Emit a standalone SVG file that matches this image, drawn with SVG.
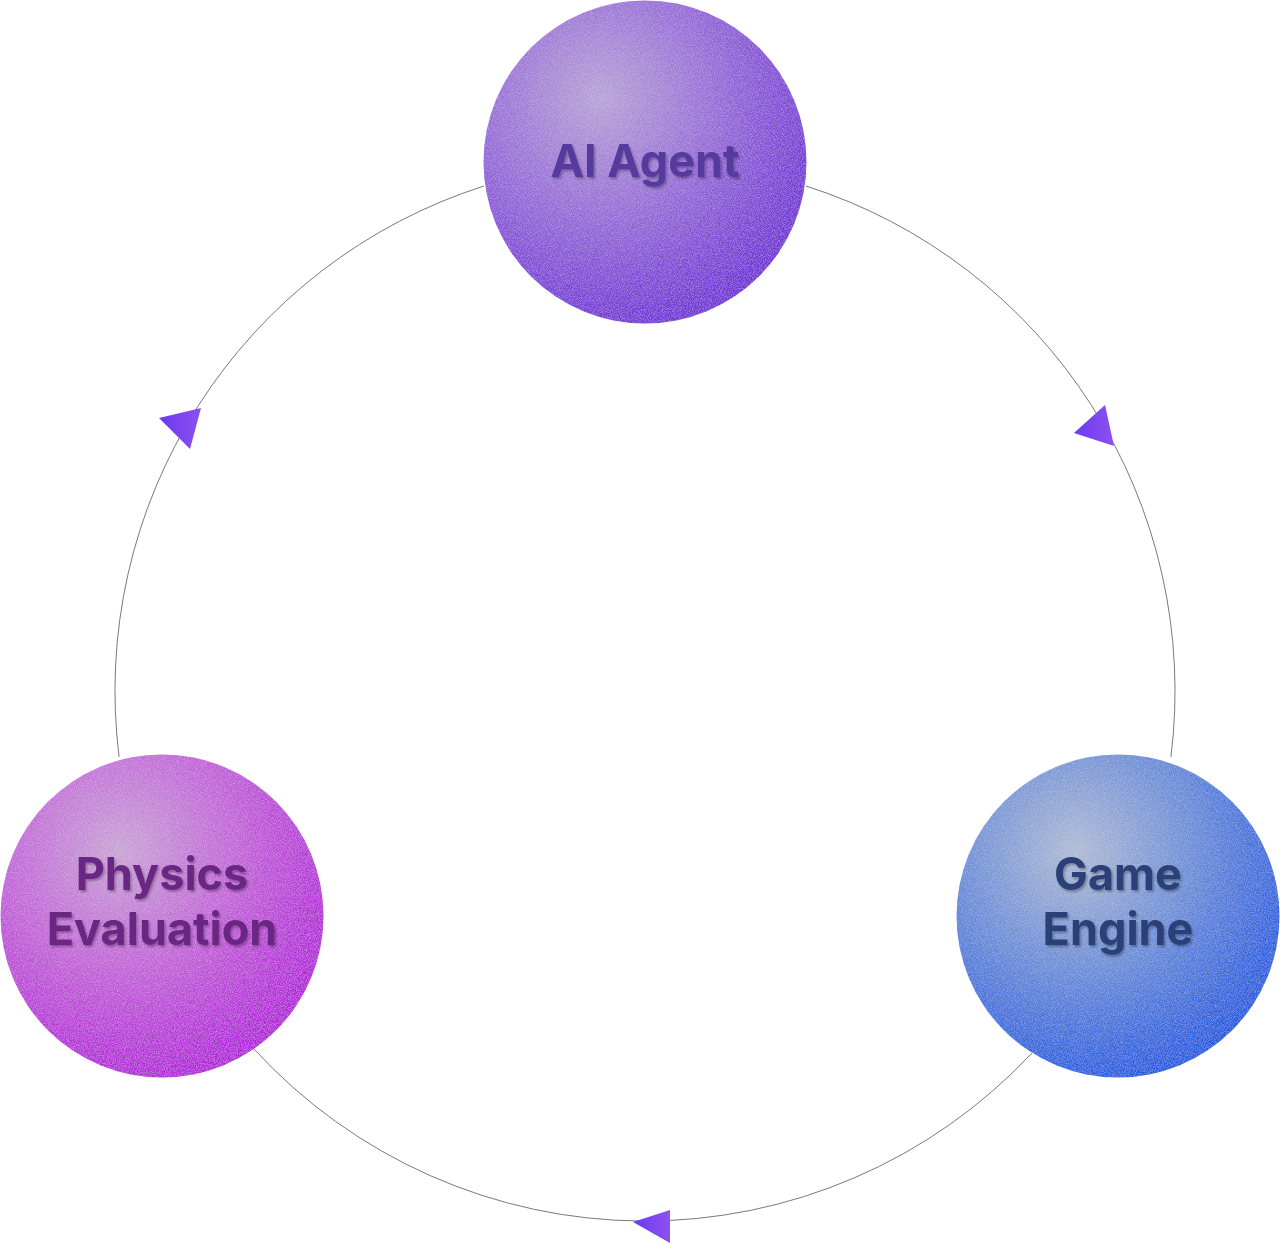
<svg xmlns="http://www.w3.org/2000/svg" width="1280" height="1244" viewBox="0 0 1280 1244">
  <style>
    .conn { fill: none; stroke: #7a7a7a; stroke-width: 1; }
    .arrow { fill: url(#arrowGrad); }
    .label { font-family: Inter, "Liberation Sans", sans-serif; font-weight: 700; font-size: 45px; text-anchor: middle; filter: url(#emboss); }
  </style>
  <defs>
    <radialGradient id="gAI" cx="0.36" cy="0.3" r="0.8" fx="0.36" fy="0.3">
      <stop offset="0" stop-color="#b7a2d6"/>
      <stop offset="0.45" stop-color="#976bd8"/>
      <stop offset="1" stop-color="#6a24d4"/>
    </radialGradient>
    <radialGradient id="gPhys" cx="0.37" cy="0.3" r="0.8" fx="0.37" fy="0.3">
      <stop offset="0" stop-color="#c8a4d6"/>
      <stop offset="0.45" stop-color="#c262d8"/>
      <stop offset="1" stop-color="#ae12d8"/>
    </radialGradient>
    <radialGradient id="gGame" cx="0.37" cy="0.3" r="0.8" fx="0.37" fy="0.3">
      <stop offset="0" stop-color="#afbad4"/>
      <stop offset="0.45" stop-color="#6b8dd8"/>
      <stop offset="1" stop-color="#1050e2"/>
    </radialGradient>
    <linearGradient id="arrowGrad" x1="0" y1="0" x2="1" y2="0">
      <stop offset="0" stop-color="#6a3af0"/>
      <stop offset="1" stop-color="#8e50f0"/>
    </linearGradient>
    <filter id="grain" x="0" y="0" width="100%" height="100%">
      <feTurbulence type="fractalNoise" baseFrequency="1.1" numOctaves="2" stitchTiles="stitch" result="noise"/>
      <feColorMatrix in="noise" type="matrix" values="0 0 0 0 1  0 0 0 0 1  0 0 0 0 1  0.45 0 0 0 -0.17" result="speck"/>
      <feComposite in="speck" in2="SourceAlpha" operator="in" result="speckIn"/>
      <feMerge>
        <feMergeNode in="SourceGraphic"/>
        <feMergeNode in="speckIn"/>
      </feMerge>
    </filter>
    <filter id="emboss" x="-10%" y="-20%" width="120%" height="150%">
      <feDropShadow dx="1.5" dy="2" stdDeviation="0.8" flood-color="#000000" flood-opacity="0.3"/>
    </filter>
  </defs>

  <g id="connectors">
    <path class="conn" d="M 806 186 A 530 530 0 0 1 1170.9 757"/>
    <path class="conn" d="M 1032 1053 A 530 530 0 0 1 254 1049"/>
    <path class="conn" d="M 119.1 757 A 530 530 0 0 1 484 186"/>
    <polygon class="arrow" points="1074,433 1105,405 1114,446"/>
    <polygon class="arrow" points="633,1222 670,1210 670,1243"/>
    <polygon class="arrow" points="159,418 201,408 190,449"/>
  </g>

  <g id="node-ai-agent">
    <circle cx="645" cy="162" r="161.5" fill="url(#gAI)" filter="url(#grain)"/>
    <text class="label" x="645" y="177" fill="#573a9e">AI Agent</text>
  </g>

  <g id="node-game-engine">
    <circle cx="1118" cy="916" r="161.5" fill="url(#gGame)" filter="url(#grain)"/>
    <text class="label" x="1118" y="890" fill="#2c4077">Game</text>
    <text class="label" x="1118" y="945" fill="#2c4077">Engine</text>
  </g>

  <g id="node-physics-evaluation">
    <circle cx="162" cy="916" r="161.5" fill="url(#gPhys)" filter="url(#grain)"/>
    <text class="label" x="162" y="890" fill="#6b2883">Physics</text>
    <text class="label" x="162" y="945" fill="#6b2883">Evaluation</text>
  </g>
</svg>
